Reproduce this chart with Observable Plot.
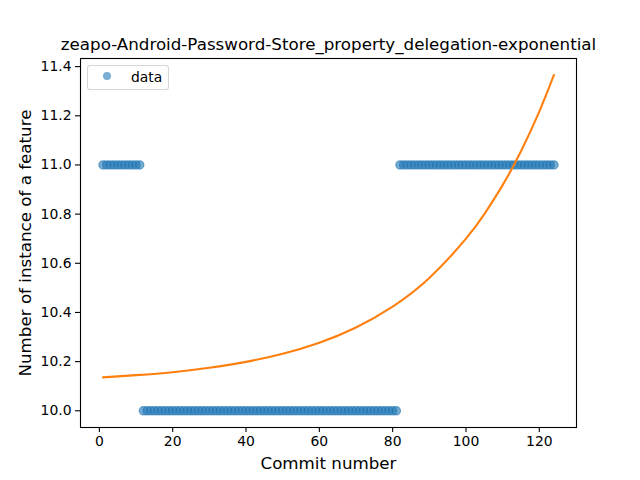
<!DOCTYPE html>
<html><head><meta charset="utf-8">
<script src="https://cdn.jsdelivr.net/npm/d3@7"></script>
<script src="https://cdn.jsdelivr.net/npm/@observablehq/plot@0.6"></script>
<style>
body{margin:0;background:#fff;}
#wrap{position:relative;width:640px;height:480px;font-family:"DejaVu Sans";}
.legend{position:absolute;left:87px;top:65px;width:82px;height:25px;border:1px solid rgba(204,204,204,0.8);border-radius:3px;background:rgba(255,255,255,0.8);box-sizing:border-box;font-size:13.9px;color:#000;}
.legend .mk{position:absolute;left:15px;top:6px;width:8.3px;height:8.3px;border-radius:50%;background:rgba(31,119,180,0.6);}
.legend .lb{position:absolute;left:43px;top:3px;line-height:16px;}
</style>
</head><body>
<div id="wrap"></div>
<script>
const title = "zeapo-Android-Password-Store_property_delegation-exponential";
const xLabel = "Commit number";
const yLabel = "Number of instance of a feature";
const legendLabel = "data";
const xTicks = [0, 20, 40, 60, 80, 100, 120];
const yTicks = [10.0, 10.2, 10.4, 10.6, 10.8, 11.0, 11.2, 11.4];

// feature count per commit (commit number = index + 1)
const values = [
  11,11,11,11,11,11,11,11,11,11,11,
  10,10,10,10,10,10,10,10,10,10,
  10,10,10,10,10,10,10,10,10,10,
  10,10,10,10,10,10,10,10,10,10,
  10,10,10,10,10,10,10,10,10,10,
  10,10,10,10,10,10,10,10,10,10,
  10,10,10,10,10,10,10,10,10,10,
  10,10,10,10,10,10,10,10,10,10,
  11,11,11,11,11,11,11,11,11,11,
  11,11,11,11,11,11,11,11,11,11,
  11,11,11,11,11,11,11,11,11,11,
  11,11,11,11,11,11,11,11,11,11,
  11,11,11
];
const data = values.map((v, i) => ({commit: i + 1, value: v}));

// exponential fit curve
const fitX = [1, 10, 20, 30, 40, 50, 60, 70, 80, 90, 100, 105, 110, 115, 120, 124];
const fitY = [10.136, 10.145, 10.157, 10.175, 10.199, 10.232, 10.277, 10.339, 10.424, 10.540, 10.700, 10.800, 10.918, 11.056, 11.217, 11.366];
const fit = fitX.map((x, i) => ({x, y: fitY[i]}));

const chart = Plot.plot({
  width: 640, height: 480,
  marginLeft: 80, marginRight: 64, marginTop: 58, marginBottom: 53,
  style: {fontFamily: "DejaVu Sans", fontSize: "13.9px", color: "black", background: "white"},
  x: {domain: [-5.15, 130.15]},
  y: {domain: [9.932, 11.433]},
  marks: [
    Plot.axisX({ticks: xTicks, tickFormat: d => String(d), tickSize: 5, tickPadding: 4, strokeWidth: 1.1, label: null, fontSize: 13.9}),
    Plot.axisY({ticks: yTicks, tickFormat: d3.format(".1f"), tickSize: 5, tickPadding: 4, strokeWidth: 1.1, label: null, fontSize: 13.9}),
    Plot.dot(data, {x: "commit", y: "value", r: 4.17, fill: "#1f77b4", fillOpacity: 0.6, stroke: "#1f77b4", strokeOpacity: 0.6, strokeWidth: 1.2}),
    Plot.line(fit, {x: "x", y: "y", stroke: "#ff7f0e", strokeWidth: 2.08, curve: "natural"}),
    Plot.frame({stroke: "black", strokeWidth: 1.1}),
    Plot.text([title], {text: d => d, frameAnchor: "top", dy: -9, lineAnchor: "bottom", fontSize: 16.7}),
    Plot.text([xLabel], {text: d => d, frameAnchor: "bottom", dy: 36, lineAnchor: "middle", fontSize: 16.7}),
    Plot.text([yLabel], {text: d => d, frameAnchor: "left", dx: -55, rotate: -90, textAnchor: "middle", lineAnchor: "middle", fontSize: 16.7})
  ]
});
const wrap = document.getElementById("wrap");
wrap.appendChild(chart);
const lg = document.createElement("div");
lg.className = "legend";
lg.innerHTML = '<span class="mk"></span><span class="lb"></span>';
lg.querySelector(".lb").textContent = legendLabel;
wrap.appendChild(lg);
</script>
</body></html>
